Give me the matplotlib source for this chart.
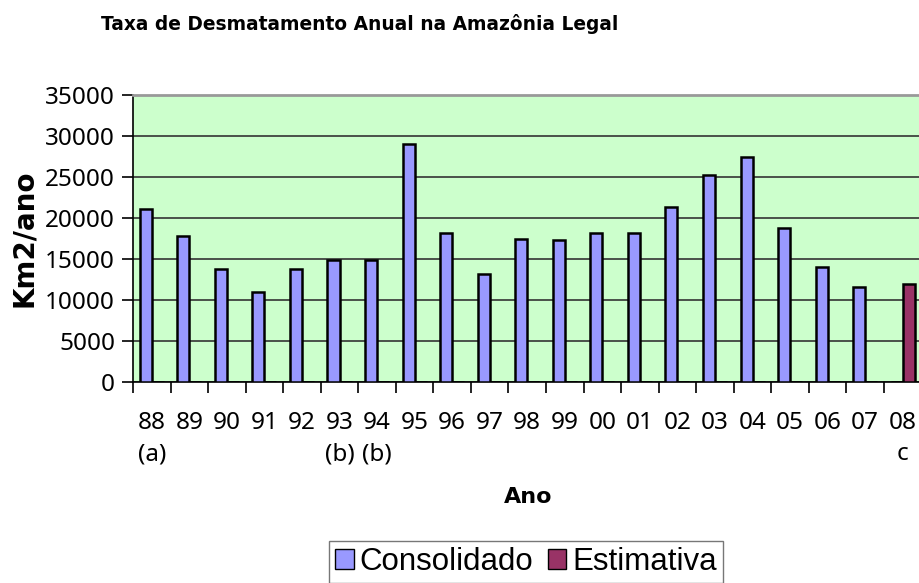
import matplotlib
matplotlib.use("Agg")
import matplotlib.pyplot as plt
import numpy as np
from matplotlib.patches import Patch
from matplotlib.ticker import FixedLocator

plt.rcParams["font.family"] = ["Noto Sans", "DejaVu Sans"]

# dados (km2/ano)
anos = ['88\n(a)', '89', '90', '91', '92', '93\n(b)', '94\n(b)', '95', '96', '97',
        '98', '99', '00', '01', '02', '03', '04', '05', '06', '07', '08\nc']
consolidado = [21050, 17770, 13730, 11030, 13786, 14896, 14896, 29059, 18161, 13227,
               17383, 17259, 18226, 18165, 21394, 25247, 27429, 18759, 14039, 11532, 0]
estimativa = [0] * 20 + [11968]

cor_cons = '#9999FF'
cor_est = '#993366'
W, H = 920, 583
negrito = {'family': 'DejaVu Sans', 'weight': 'bold'}

fig = plt.figure(figsize=(W / 100, H / 100), dpi=100)
# area do grafico em pixels: x 133..921, y 95..382
ax = fig.add_axes([133 / W, 1 - 382 / H, (921.5 - 133) / W, (382 - 95) / H])
ax.set_facecolor('#CCFFCC')

x = np.arange(len(anos))
w = 0.32
ax.bar(x - w / 2, consolidado, w, color=cor_cons, edgecolor='black', linewidth=1.8, zorder=3)
ax.bar(x + w / 2, estimativa, w, color=cor_est, edgecolor='black', linewidth=1.8, zorder=3)

ax.set_xlim(-0.5, len(anos) - 0.5)
ax.set_ylim(0, 35000)
ax.set_yticks(np.arange(0, 35001, 5000))
ax.yaxis.grid(True, color='#333333', linewidth=1.2, zorder=1)

# ticks do eixo x nas divisas das categorias, rotulos no centro
ax.xaxis.set_major_locator(FixedLocator(np.arange(-0.5, len(anos) - 0.5, 1)))
ax.set_xticklabels([])
ax.xaxis.set_minor_locator(FixedLocator(x))
ax.set_xticklabels(anos, minor=True, fontsize=17.5, linespacing=1.4, va='top')
ax.tick_params(axis='x', which='major', length=8, width=1.2, direction='out')
ax.tick_params(axis='x', which='minor', length=0, pad=21)
ax.tick_params(axis='y', length=8, width=1.2, labelsize=17.5, pad=5)

for s in ['left', 'bottom']:
    ax.spines[s].set_color('black')
    ax.spines[s].set_linewidth(1.2)
ax.spines['top'].set_color('#999999')
ax.spines['top'].set_linewidth(2)
ax.spines['right'].set_visible(False)

fig.text(360 / W, 1 - 24 / H, 'Taxa de Desmatamento Anual na Amazônia Legal',
         ha='center', va='center', fontsize=13.4, **negrito)
fig.text(24 / W, 1 - 238 / H, 'Km2/ano', rotation=90, ha='center', va='center',
         fontsize=20, **negrito)
fig.text(528 / W, 1 - 497 / H, 'Ano', ha='center', va='center',
         fontsize=16, **negrito)

handles = [Patch(facecolor=cor_cons, edgecolor='black', linewidth=1),
           Patch(facecolor=cor_est, edgecolor='black', linewidth=1)]
leg = fig.legend(handles, ['Consolidado', 'Estimativa'], loc='center',
                 bbox_to_anchor=(526 / W, 1 - 562 / H), ncol=2, frameon=True,
                 fancybox=False, edgecolor='#555555', prop={'family': 'Liberation Sans', 'size': 22.5},
                 handlelength=0.6, handleheight=0.6, handletextpad=0.2, columnspacing=0.45,
                 borderpad=0.18, borderaxespad=0)
leg.get_frame().set_linewidth(1)

fig.savefig('out.png', dpi=100)
